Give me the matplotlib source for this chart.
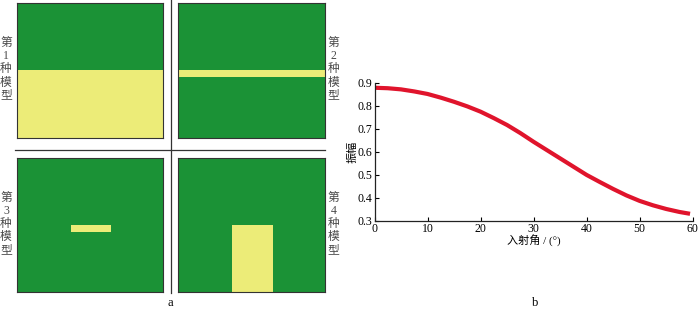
import matplotlib
matplotlib.use("Agg")
import matplotlib.pyplot as plt
from matplotlib.patches import Rectangle
from matplotlib.lines import Line2D

plt.rcParams['font.family'] = ['Liberation Serif', 'Noto Sans CJK SC']

# Data
model_labels = ["第\n1\n种\n模\n型", "第\n2\n种\n模\n型", "第\n3\n种\n模\n型", "第\n4\n种\n模\n型"]
# yellow rectangle per model: (x0, y0, width, height) in unit model coordinates
model_rects = [(0.0, 0.0, 1.0, 0.5),
               (0.0, 0.45, 1.0, 0.05),
               (0.37, 0.45, 0.27, 0.05),
               (0.37, 0.0, 0.275, 0.5)]
angles = [0, 2.5, 5, 7.5, 10, 12.5, 15, 17.5, 20, 22.5, 25, 27.5, 30,
          32.5, 35, 37.5, 40, 42.5, 45, 47.5, 50, 52.5, 55, 57.5, 59.5]
amplitude = [0.878, 0.876, 0.871, 0.862, 0.851, 0.835, 0.817, 0.797, 0.774, 0.746,
             0.716, 0.681, 0.643, 0.607, 0.571, 0.535, 0.499, 0.468, 0.438, 0.410,
             0.386, 0.367, 0.351, 0.338, 0.330]
x_ticks = [0, 10, 20, 30, 40, 50, 60]
y_ticks = [0.3, 0.4, 0.5, 0.6, 0.7, 0.8, 0.9]

GREEN = "#1b9236"
YELLOW = "#ecec78"
RED = "#e0142c"

W, H = 700, 310
fig = plt.figure(figsize=(7, 3.1), dpi=100)

def px_axes(x0, y0, x1, y1):
    return fig.add_axes([x0 / W, 1 - y1 / H, (x1 - x0) / W, (y1 - y0) / H])

panels = [(16.7, 3.3, 163.3, 137.7), (177.7, 3.3, 325, 137.7),
          (16.7, 157.7, 163.3, 292.3), (177.7, 157.7, 325, 292.3)]
label_x = [6, 333.5, 6, 333.5]
for i, (p, rect) in enumerate(zip(panels, model_rects)):
    ax = px_axes(*p)
    ax.set_xlim(0, 1)
    ax.set_ylim(0, 1)
    ax.set_facecolor(GREEN)
    ax.add_patch(Rectangle(rect[:2], rect[2], rect[3], facecolor=YELLOW,
                           edgecolor="none"))
    ax.set_xticks([])
    ax.set_yticks([])
    for s in ax.spines.values():
        s.set_color("#333333")
        s.set_linewidth(0.8)
    yc = (p[1] + p[3]) / 2 - 1
    fig.text(label_x[i] / W, 1 - yc / H, model_labels[i], ha="center", va="center",
             fontsize=8.5, color="#4a4a4a", linespacing=1.12)

# divider lines
fig.add_artist(Line2D([170.7 / W, 170.7 / W], [1 - 0 / H, 1 - 293 / H], color="#333333", lw=0.9))
fig.add_artist(Line2D([15 / W, 325 / W], [1 - 149.7 / H, 1 - 149.7 / H], color="#333333", lw=0.9))
fig.text(170.7 / W, 1 - 303 / H, "a", ha="center", va="center", fontsize=9)

# right chart
ax2 = px_axes(374.5, 82.7, 692.7, 220.7)
ax2.plot(angles, amplitude, color=RED, lw=3.0, solid_capstyle="butt",
         solid_joinstyle="round")
ax2.set_xlim(0, 60)
ax2.set_ylim(0.3, 0.9)
ax2.set_xticks(x_ticks)
ax2.set_yticks(y_ticks)
ax2.set_xticklabels([str(t) for t in x_ticks])
ax2.set_yticklabels([f"{t:.1f}" for t in y_ticks])
ax2.spines["top"].set_visible(False)
ax2.spines["right"].set_visible(False)
for s in ("left", "bottom"):
    ax2.spines[s].set_linewidth(0.9)
    ax2.spines[s].set_color("#222222")
ax2.tick_params(direction="in", length=3, width=0.8, labelsize=8.5, pad=1.5)
ax2.set_ylabel("振幅", fontsize=8, labelpad=0)
ax2.set_xlabel("入射角 / (°)", fontsize=8, labelpad=0)
fig.text(535 / W, 1 - 303 / H, "b", ha="center", va="center", fontsize=9)

fig.savefig("out.png", dpi=100)
